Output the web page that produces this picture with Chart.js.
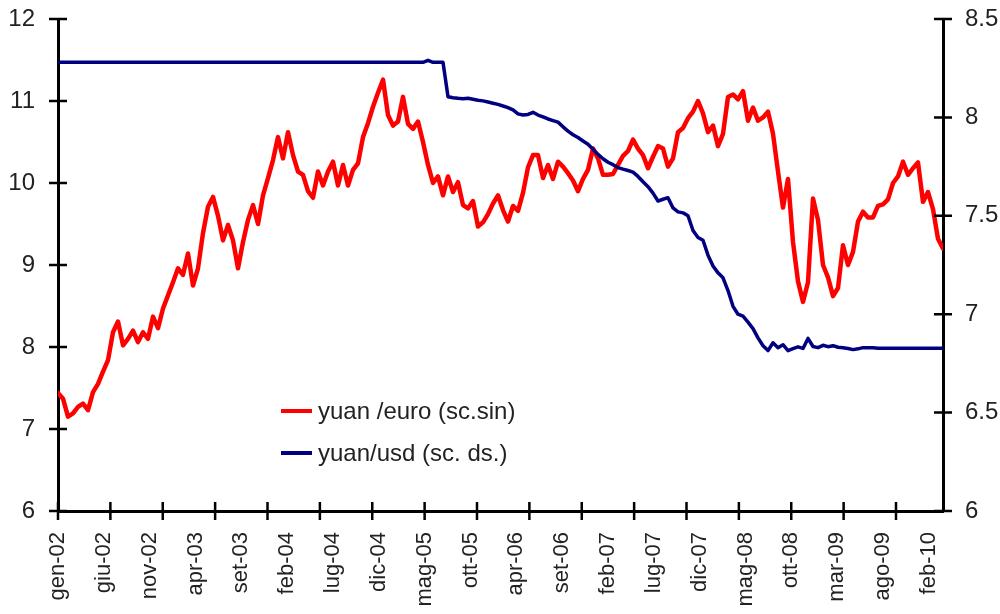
<!DOCTYPE html>
<html>
<head>
<meta charset="utf-8">
<script src="https://cdn.jsdelivr.net/npm/chart.js@4.4.0/dist/chart.umd.min.js"></script>
<style>
  html, body { margin: 0; padding: 0; background: #fff; }
  #wrap { position: relative; width: 1000px; height: 614px; }
  #legend { position: absolute; left: 281px; top: 390px; font-family: "Liberation Sans", Arial, sans-serif; font-size: 24px; color: #222; }
  .row { display: flex; align-items: center; height: 42px; }
  .swatch { width: 31px; height: 4px; margin-right: 6px; }
</style>
</head>
<body>
<div id="wrap">
  <canvas id="chart" width="1000" height="614"></canvas>
  <div id="legend"></div>
</div>
<script>
// trading-day index: one sample every 12 days, labels every 110 days, tick marks every ~126
const STEP_DAYS = 12;
const LABEL_EVERY = 110;
const TICK_EVERY = 125.7;

const xLabels = ['gen-02', 'giu-02', 'nov-02', 'apr-03', 'set-03', 'feb-04', 'lug-04', 'dic-04',
  'mag-05', 'ott-05', 'apr-06', 'set-06', 'feb-07', 'lug-07', 'dic-07', 'mag-08', 'ott-08',
  'mar-09', 'ago-09', 'feb-10'];

// yuan per euro (left scale)
const yuanEuro = [
  7.44, 7.37, 7.15, 7.19, 7.27, 7.31, 7.23, 7.45, 7.55, 7.70,
  7.84, 8.18, 8.31, 8.02, 8.10, 8.20, 8.06, 8.18, 8.10, 8.37,
  8.23, 8.47, 8.63, 8.79, 8.96, 8.88, 9.14, 8.75, 8.96, 9.39,
  9.71, 9.83, 9.60, 9.30, 9.49, 9.30, 8.96, 9.28, 9.55, 9.73,
  9.50, 9.85, 10.06, 10.28, 10.56, 10.30, 10.62, 10.34, 10.14, 10.10,
  9.90, 9.82, 10.14, 9.97, 10.14, 10.26, 9.97, 10.22, 9.97, 10.16,
  10.24, 10.56, 10.73, 10.93, 11.10, 11.26, 10.83, 10.70, 10.75, 11.05,
  10.72, 10.66, 10.75, 10.50, 10.22, 10.00, 10.08, 9.85, 10.08, 9.89,
  10.01, 9.73, 9.69, 9.78, 9.47, 9.52, 9.62, 9.75, 9.85, 9.67,
  9.53, 9.72, 9.66, 9.88, 10.19, 10.34, 10.34, 10.06, 10.22, 10.05,
  10.26, 10.20, 10.12, 10.03, 9.90, 10.05, 10.16, 10.42, 10.30, 10.10,
  10.10, 10.11, 10.22, 10.33, 10.39, 10.53, 10.42, 10.34, 10.18, 10.32,
  10.45, 10.42, 10.20, 10.30, 10.62, 10.67, 10.79, 10.87, 11.00, 10.85,
  10.62, 10.70, 10.45, 10.60, 11.05, 11.08, 11.02, 11.12, 10.76, 10.92,
  10.76, 10.80, 10.87, 10.60, 10.14, 9.70, 10.05, 9.28, 8.80, 8.55,
  8.79, 9.81, 9.55, 9.00, 8.85, 8.62, 8.72, 9.24, 9.00, 9.16,
  9.53, 9.65, 9.58, 9.58, 9.72, 9.74, 9.80, 10.00, 10.08, 10.26,
  10.10, 10.18, 10.25, 9.77, 9.89, 9.68, 9.32, 9.20
];

// yuan per dollar (right scale)
const yuanUsd = [
  8.28, 8.28, 8.28, 8.28, 8.28, 8.28, 8.28, 8.28, 8.28, 8.28,
  8.28, 8.28, 8.28, 8.28, 8.28, 8.28, 8.28, 8.28, 8.28, 8.28,
  8.28, 8.28, 8.28, 8.28, 8.28, 8.28, 8.28, 8.28, 8.28, 8.28,
  8.28, 8.28, 8.28, 8.28, 8.28, 8.28, 8.28, 8.28, 8.28, 8.28,
  8.28, 8.28, 8.28, 8.28, 8.28, 8.28, 8.28, 8.28, 8.28, 8.28,
  8.28, 8.28, 8.28, 8.28, 8.28, 8.28, 8.28, 8.28, 8.28, 8.28,
  8.28, 8.28, 8.28, 8.28, 8.28, 8.28, 8.28, 8.28, 8.28, 8.28,
  8.28, 8.28, 8.28, 8.28, 8.29, 8.28, 8.28, 8.28, 8.105, 8.10,
  8.097, 8.095, 8.097, 8.092, 8.087, 8.084, 8.078, 8.072, 8.066, 8.058,
  8.05, 8.038, 8.018, 8.012, 8.015, 8.026, 8.012, 8.003, 7.992, 7.984,
  7.976, 7.952, 7.93, 7.912, 7.898, 7.88, 7.864, 7.838, 7.812, 7.79,
  7.772, 7.76, 7.745, 7.737, 7.73, 7.722, 7.70, 7.673, 7.648, 7.615,
  7.575, 7.584, 7.592, 7.54, 7.52, 7.515, 7.50, 7.425, 7.39, 7.376,
  7.30, 7.245, 7.21, 7.185, 7.12, 7.04, 7.00, 6.99, 6.96, 6.927,
  6.88, 6.84, 6.815, 6.855, 6.83, 6.845, 6.815, 6.825, 6.834, 6.826,
  6.877, 6.836, 6.83, 6.842, 6.835, 6.84, 6.832, 6.83, 6.826, 6.82,
  6.824, 6.83, 6.83, 6.829, 6.827, 6.827, 6.827, 6.827, 6.827, 6.827,
  6.827, 6.827, 6.827, 6.827, 6.827, 6.827, 6.827, 6.827
];

const seriesNames = ['yuan /euro (sc.sin)', 'yuan/usd (sc. ds.)'];

const toPoints = (arr) => arr.map((v, i) => ({ x: i * STEP_DAYS, y: v }));
const lastDay = (yuanEuro.length - 1) * STEP_DAYS;

const tickFont = { family: '"Liberation Sans", Arial, sans-serif', size: 24 };

// axis tick marks crossing the axis line (Excel "cross" style)
const crossTicks = {
  id: 'crossTicks',
  afterDraw(chart) {
    const { ctx, chartArea, scales } = chart;
    const len = 9;
    ctx.save();
    ctx.strokeStyle = '#000';
    ctx.lineWidth = 2.5;
    ctx.beginPath();
    scales.y.ticks.forEach(t => {
      const py = scales.y.getPixelForValue(t.value);
      ctx.moveTo(chartArea.left - len, py);
      ctx.lineTo(chartArea.left + len, py);
    });
    scales.y2.ticks.forEach(t => {
      const py = scales.y2.getPixelForValue(t.value);
      ctx.moveTo(chartArea.right - len, py);
      ctx.lineTo(chartArea.right + len, py);
    });
    for (let d = 0; d <= lastDay; d += TICK_EVERY) {
      const px = scales.x.getPixelForValue(d);
      ctx.moveTo(px, chartArea.bottom - len);
      ctx.lineTo(px, chartArea.bottom + len);
    }
    ctx.stroke();
    ctx.restore();
  }
};

const data = {
  datasets: [
    {
      label: seriesNames[0],
      data: toPoints(yuanEuro),
      borderColor: '#ff0000',
      backgroundColor: '#ff0000',
      borderWidth: 4.5,
      yAxisID: 'y',
      order: 2
    },
    {
      label: seriesNames[1],
      data: toPoints(yuanUsd),
      borderColor: '#000080',
      backgroundColor: '#000080',
      borderWidth: 3.5,
      yAxisID: 'y2',
      order: 1
    }
  ]
};

const hiddenGrid = { display: true, drawOnChartArea: false, drawTicks: true, tickLength: 9, color: 'rgba(0,0,0,0)' };

const fitY = (w) => (scale) => {
  scale.width = w;
  scale.paddingTop = 0;
  scale.paddingBottom = 0;
};

const config = {
  type: 'line',
  data: data,
  options: {
    responsive: false,
    animation: false,
    layout: { padding: { top: 19, left: 0, right: 0, bottom: 0 } },
    elements: {
      point: { radius: 0 },
      line: { tension: 0, borderJoinStyle: 'round', borderCapStyle: 'round' }
    },
    plugins: { legend: { display: false }, tooltip: { enabled: false } },
    scales: {
      x: {
        type: 'linear',
        min: 0,
        max: lastDay,
        afterBuildTicks: (scale) => {
          scale.ticks = xLabels.map((l, k) => ({ value: k * LABEL_EVERY }));
        },
        afterFit: (scale) => { scale.height = 103; },
        border: { display: true, color: '#000', width: 3 },
        grid: hiddenGrid,
        ticks: {
          autoSkip: false,
          minRotation: 90,
          maxRotation: 90,
          padding: 12,
          color: '#222',
          font: { family: tickFont.family, size: 22 },
          callback: (v) => xLabels[Math.round(v / LABEL_EVERY)]
        }
      },
      y: {
        position: 'left',
        min: 6,
        max: 12,
        afterFit: fitY(58),
        border: { display: true, color: '#000', width: 3 },
        grid: hiddenGrid,
        ticks: { stepSize: 1, padding: 14, color: '#222', font: tickFont }
      },
      y2: {
        position: 'right',
        min: 6,
        max: 8.5,
        afterFit: fitY(57),
        border: { display: true, color: '#000', width: 3 },
        grid: hiddenGrid,
        ticks: { stepSize: 0.5, padding: 13, color: '#222', font: tickFont, callback: (v) => String(v) }
      }
    }
  },
  plugins: [crossTicks]
};

const chart = new Chart(document.getElementById('chart'), config);

// legend sits inside the plot, like the original
const legendBox = document.getElementById('legend');
chart.data.datasets.forEach(ds => {
  const row = document.createElement('div');
  row.className = 'row';
  const sw = document.createElement('span');
  sw.className = 'swatch';
  sw.style.background = ds.borderColor;
  const txt = document.createElement('span');
  txt.textContent = ds.label;
  row.appendChild(sw);
  row.appendChild(txt);
  legendBox.appendChild(row);
});
</script>
</body>
</html>
